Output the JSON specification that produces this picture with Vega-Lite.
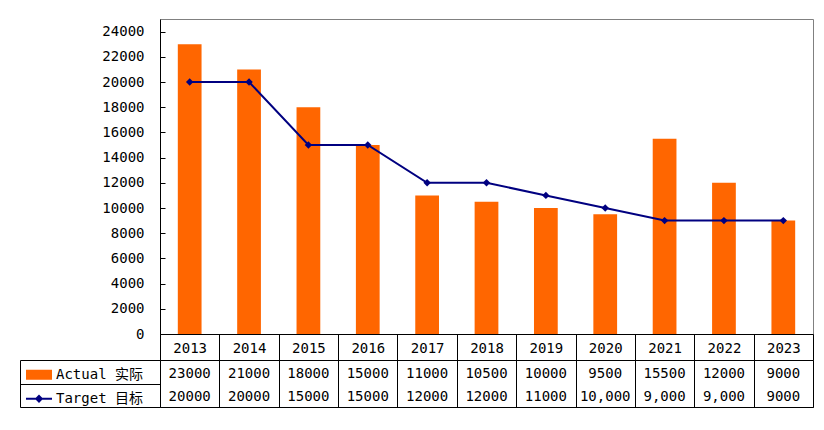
{
  "$schema": "https://vega.github.io/schema/vega-lite/v6.json",
  "padding": {"left": 19, "top": 18, "right": 5, "bottom": 5},
  "background": "white",
  "spacing": 26,
  "bounds": "flush",
  "config": {
    "font": "DejaVu Sans Mono, Noto Sans CJK SC",
    "view": {"stroke": null},
    "axis": {"labelFont": "DejaVu Sans Mono, Noto Sans CJK SC", "labelFontSize": 14, "labelColor": "black", "domainColor": "black", "tickColor": "black", "domainWidth": 1, "tickWidth": 1, "labelOverlap": false},
    "legend": {"labelFont": "DejaVu Sans Mono, Noto Sans CJK SC"}
  },
  "datasets": {
    "main": [
      {"year": "2013", "actual": 23000, "target": 20000},
      {"year": "2014", "actual": 21000, "target": 20000},
      {"year": "2015", "actual": 18000, "target": 15000},
      {"year": "2016", "actual": 15000, "target": 15000},
      {"year": "2017", "actual": 11000, "target": 12000},
      {"year": "2018", "actual": 10500, "target": 12000},
      {"year": "2019", "actual": 10000, "target": 11000},
      {"year": "2020", "actual": 9500, "target": 10000},
      {"year": "2021", "actual": 15500, "target": 9000},
      {"year": "2022", "actual": 12000, "target": 9000},
      {"year": "2023", "actual": 9000, "target": 9000}
    ],
    "table": [
      {"year": "2013", "row": "Actual 实际", "label": "23000"},
      {"year": "2014", "row": "Actual 实际", "label": "21000"},
      {"year": "2015", "row": "Actual 实际", "label": "18000"},
      {"year": "2016", "row": "Actual 实际", "label": "15000"},
      {"year": "2017", "row": "Actual 实际", "label": "11000"},
      {"year": "2018", "row": "Actual 实际", "label": "10500"},
      {"year": "2019", "row": "Actual 实际", "label": "10000"},
      {"year": "2020", "row": "Actual 实际", "label": "9500"},
      {"year": "2021", "row": "Actual 实际", "label": "15500"},
      {"year": "2022", "row": "Actual 实际", "label": "12000"},
      {"year": "2023", "row": "Actual 实际", "label": "9000"},
      {"year": "2013", "row": "Target 目标", "label": "20000"},
      {"year": "2014", "row": "Target 目标", "label": "20000"},
      {"year": "2015", "row": "Target 目标", "label": "15000"},
      {"year": "2016", "row": "Target 目标", "label": "15000"},
      {"year": "2017", "row": "Target 目标", "label": "12000"},
      {"year": "2018", "row": "Target 目标", "label": "12000"},
      {"year": "2019", "row": "Target 目标", "label": "11000"},
      {"year": "2020", "row": "Target 目标", "label": "10,000"},
      {"year": "2021", "row": "Target 目标", "label": "9,000"},
      {"year": "2022", "row": "Target 目标", "label": "9,000"},
      {"year": "2023", "row": "Target 目标", "label": "9000"}
    ]
  },
  "vconcat": [
    {
      "width": 653,
      "height": 315,
      "view": {"stroke": "#808080", "strokeWidth": 1},
      "data": {"name": "main"},
      "encoding": {
        "x": {
          "field": "year", "type": "nominal", "sort": null,
          "scale": {"paddingInner": 0, "paddingOuter": 0},
          "axis": {"orient": "bottom", "title": null, "labelAngle": 0, "tickBand": "extent", "tickSize": 26, "labelBaseline": "middle", "labelPadding": -12, "grid": false}
        }
      },
      "layer": [
        {
          "mark": {"type": "bar", "color": "#FF6600", "width": {"band": 0.4}},
          "encoding": {
            "y": {
              "field": "actual", "type": "quantitative",
              "scale": {"domain": [0, 25000], "nice": false, "zero": true},
              "axis": {"title": null, "grid": false, "values": [0, 2000, 4000, 6000, 8000, 10000, 12000, 14000, 16000, 18000, 20000, 22000, 24000], "tickSize": -5, "labelPadding": 21, "labelOverlap": false, "format": "d"}
            }
          }
        },
        {
          "mark": {"type": "line", "color": "#000080", "strokeWidth": 2},
          "encoding": {"y": {"field": "target", "type": "quantitative",
              "axis": {"title": null, "grid": false, "values": [0, 2000, 4000, 6000, 8000, 10000, 12000, 14000, 16000, 18000, 20000, 22000, 24000], "tickSize": -5, "labelPadding": 21, "labelOverlap": false, "format": "d"}}}
        },
        {
          "mark": {"type": "point", "shape": "diamond", "filled": true, "color": "#000080", "size": 55, "opacity": 1},
          "encoding": {"y": {"field": "target", "type": "quantitative",
              "axis": {"title": null, "grid": false, "values": [0, 2000, 4000, 6000, 8000, 10000, 12000, 14000, 16000, 18000, 20000, 22000, 24000], "tickSize": -5, "labelPadding": 21, "labelOverlap": false, "format": "d"}}}
        }
      ]
    },
    {
      "width": 653,
      "height": 47,
      "view": {"stroke": "black", "strokeWidth": 1},
      "data": {"name": "table"},
      "encoding": {
        "x": {
          "field": "year", "type": "nominal", "sort": null,
          "scale": {"paddingInner": 0, "paddingOuter": 0},
          "axis": {"orient": "top", "title": null, "labels": false, "ticks": false, "domain": false, "grid": true, "tickBand": "extent", "gridColor": "black", "gridOpacity": 1, "gridWidth": 1}
        },
        "y": {
          "field": "row", "type": "nominal", "sort": ["Actual 实际", "Target 目标"],
          "scale": {"paddingInner": 0, "paddingOuter": 0},
          "axis": {"orient": "left", "title": null, "labels": false, "offset": 140, "tickSize": -140, "tickBand": "extent", "grid": false}
        }
      },
      "layer": [
        {
          "mark": {"type": "text", "fontSize": 14, "baseline": "middle", "dy": 2, "color": "black", "font": "DejaVu Sans Mono, Noto Sans CJK SC"},
          "encoding": {"text": {"field": "label"}}
        },
        {
          "mark": {"type": "point", "size": 0, "filled": true},
          "encoding": {
            "color": {
              "field": "row", "type": "nominal",
              "scale": {"domain": ["Actual 实际", "Target 目标"], "range": ["#FF6600", "#000080"]},
              "legend": {"orient": "none", "legendX": -134, "legendY": 344, "title": null, "symbolSize": 676, "symbolOpacity": 1, "labelFontSize": 14, "labelColor": "black", "labelOffset": 4, "clipHeight": 23.5, "rowPadding": 0, "padding": 0, "symbolStrokeWidth": 0, "labelLimit": 300}
            },
            "shape": {
              "field": "row", "type": "nominal",
              "scale": {"domain": ["Actual 实际", "Target 目标"], "range": ["M-1,-0.38H1V0.38H-1Z", "M-1,-0.08H1V0.08H-1Z M0,-0.32L0.32,0L0,0.32L-0.32,0Z"]},
              "legend": {"orient": "none", "legendX": -134, "legendY": 344, "title": null, "symbolSize": 676, "symbolOpacity": 1, "labelFontSize": 14, "labelColor": "black", "labelOffset": 4, "clipHeight": 23.5, "rowPadding": 0, "padding": 0, "symbolStrokeWidth": 0, "labelLimit": 300}
            }
          }
        }
      ]
    }
  ]
}
